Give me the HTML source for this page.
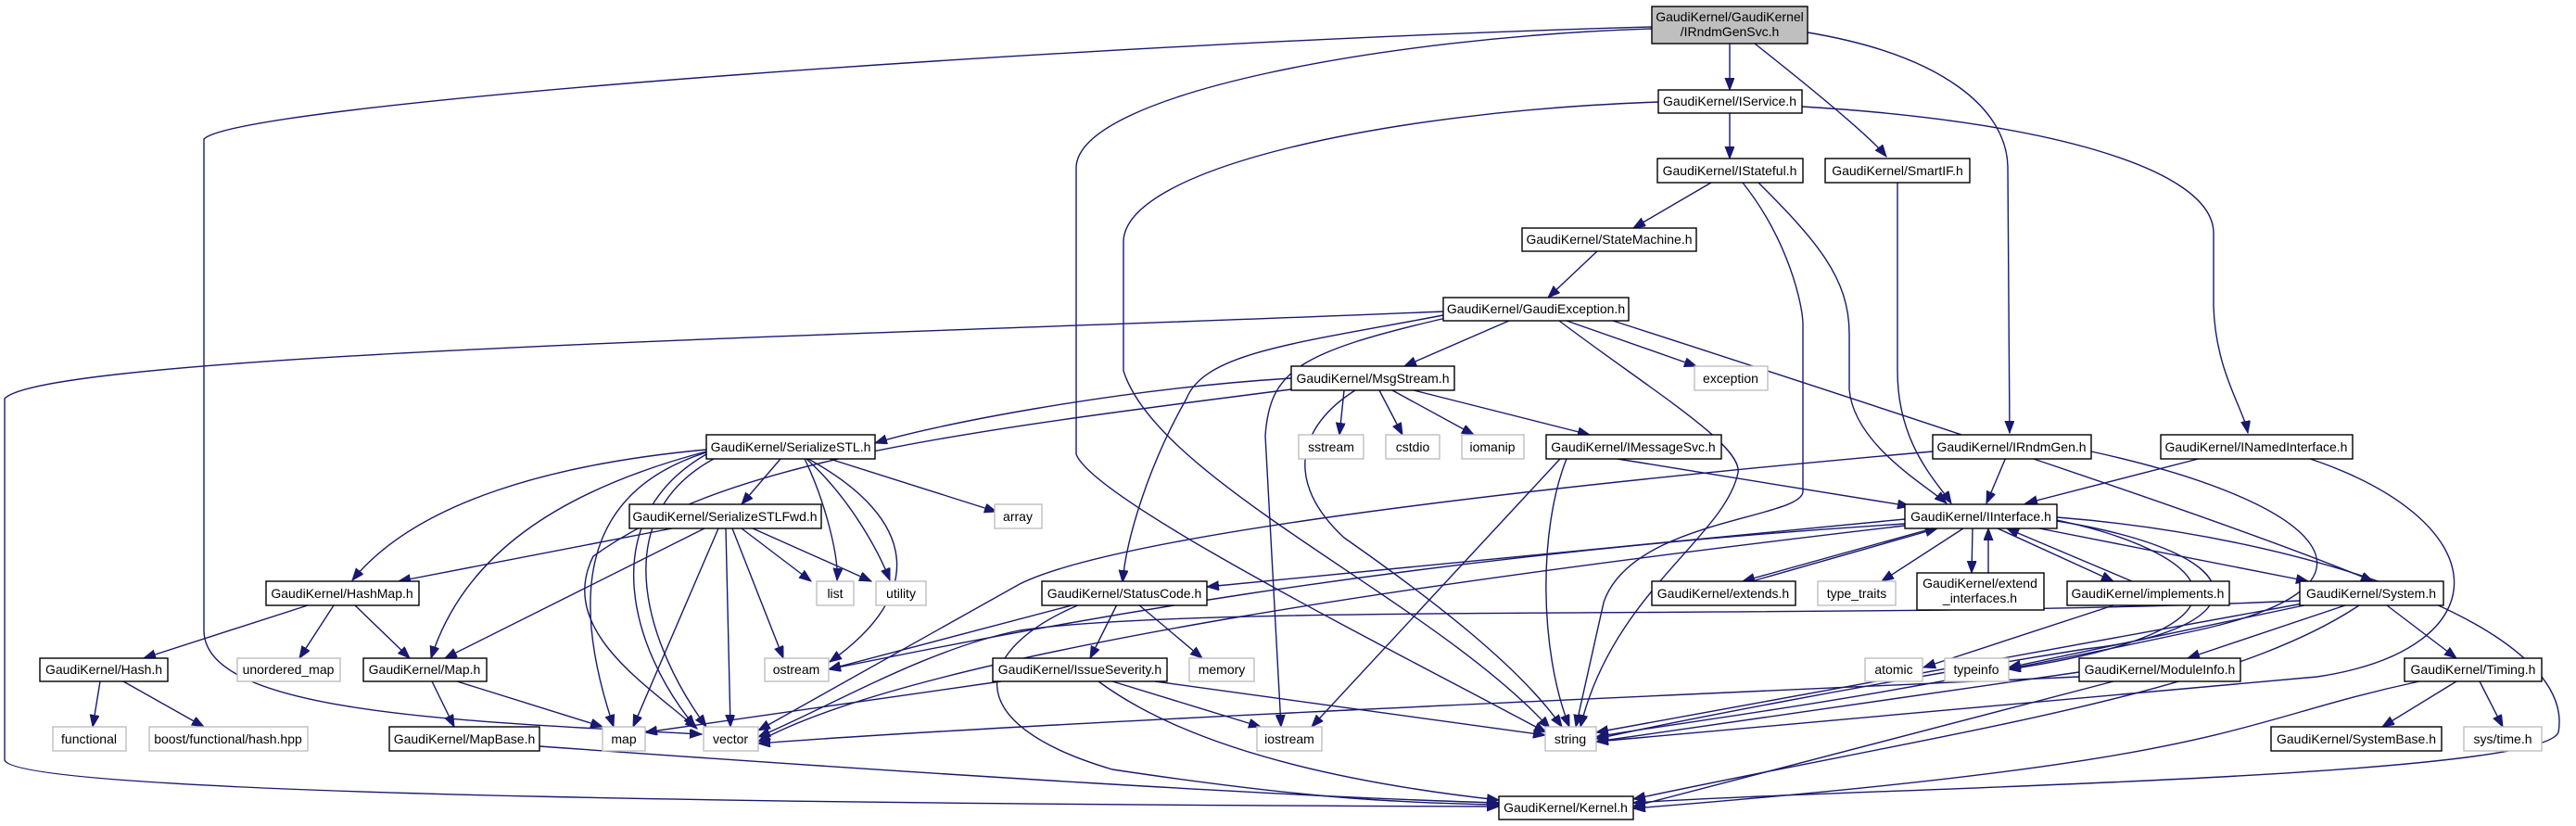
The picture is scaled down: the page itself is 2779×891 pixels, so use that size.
<!DOCTYPE html>
<html><head><meta charset="utf-8"><style>
html,body{margin:0;padding:0;background:#fff;}
svg{display:block;}
text{font-family:"Liberation Sans",Arial,sans-serif;font-size:14px;fill:#000;}
.e{fill:none;stroke:#191970;stroke-width:1.4;marker-end:url(#a);}
.n{fill:#fff;stroke:#000;stroke-width:1.4;}
.g{fill:#fff;stroke:#bfbfbf;stroke-width:1.4;}
</style></head><body>
<svg width="2779" height="891" viewBox="0 0 2779 891" xmlns="http://www.w3.org/2000/svg">
<defs><marker id="a" markerUnits="userSpaceOnUse" markerWidth="14" markerHeight="12" refX="13" refY="5" orient="auto"><path d="M0,0 L13,5 L0,10 z" fill="#191970" stroke="#191970"/></marker></defs>
<g>
<path class="e" d="M1782,29 C1200,45 260,110 220,150 L220,680 C220,770 500,778 757,792"/>
<path class="e" d="M1782,31 C1500,40 1165,100 1161,180 L1161,490 C1180,540 1500,700 1668,790"/>
<path class="e" d="M1789,110 C1500,120 1215,180 1212,260 L1212,400 C1250,520 1550,650 1672,786"/>
<path class="e" d="M1944,115 C2200,130 2385,180 2388,250 L2388,330 C2390,400 2420,440 2425,467"/>
<path class="e" d="M1866,47 L1866,97"/>
<path class="e" d="M1893,47 C1960,100 2020,150 2035,169"/>
<path class="e" d="M1950,35 C2100,60 2165,120 2166,180 L2168,467"/>
<path class="e" d="M1866,122 L1866,171"/>
<path class="e" d="M1846,197 L1762,246"/>
<path class="e" d="M1880,197 C1930,260 1945,330 1945,350 L1945,530 C1945,560 1760,560 1730,650 L1700,784"/>
<path class="e" d="M1897,197 C1960,260 1995,300 1995,360 L1995,420 C2000,480 2080,525 2100,543"/>
<path class="e" d="M2047,197 L2047,400 C2047,480 2090,520 2105,543"/>
<path class="e" d="M1723,271 L1670,321"/>
<path class="e" d="M1628,346 L1515,395"/>
<path class="e" d="M1690,346 L1830,395"/>
<path class="e" d="M1557,336 C1000,360 50,380 5,430 L5,820 C20,860 1000,868 1617,870"/>
<path class="e" d="M1557,340 C1400,370 1300,380 1280,430 C1240,500 1215,580 1211,628"/>
<path class="e" d="M1560,343 C1400,380 1370,400 1365,470 L1382,784"/>
<path class="e" d="M1682,346 C1780,420 1880,480 1875,510 C1860,580 1740,640 1705,784"/>
<path class="e" d="M1740,346 C2000,430 2400,560 2560,627"/>
<path class="e" d="M1450,421 L1445,469"/>
<path class="e" d="M1488,421 L1513,469"/>
<path class="e" d="M1502,421 L1590,469"/>
<path class="e" d="M1525,421 L1715,469"/>
<path class="e" d="M1393,408 C1200,420 1000,460 944,478"/>
<path class="e" d="M1393,420 C1000,470 780,500 640,600 C600,680 700,740 752,786"/>
<path class="e" d="M1462,421 C1400,460 1385,520 1450,580 C1550,650 1640,720 1685,784"/>
<path class="e" d="M842,495 L800,544"/>
<path class="e" d="M762,485 C600,500 450,540 380,626"/>
<path class="e" d="M762,487 C600,530 500,600 465,710"/>
<path class="e" d="M762,488 C660,520 600,600 662,784"/>
<path class="e" d="M762,490 C640,560 680,700 750,784"/>
<path class="e" d="M770,495 C650,560 700,700 762,784"/>
<path class="e" d="M868,495 C890,540 905,600 903,626"/>
<path class="e" d="M870,495 C920,540 950,600 960,626"/>
<path class="e" d="M895,495 L1075,552"/>
<path class="e" d="M872,495 C990,560 1000,640 895,714"/>
<path class="e" d="M725,570 L430,627"/>
<path class="e" d="M760,570 L480,710"/>
<path class="e" d="M775,570 L683,784"/>
<path class="e" d="M783,570 L788,784"/>
<path class="e" d="M800,570 L875,627"/>
<path class="e" d="M812,570 L940,627"/>
<path class="e" d="M790,570 L845,710"/>
<path class="e" d="M332,653 L155,710"/>
<path class="e" d="M360,653 L323,710"/>
<path class="e" d="M383,653 L442,710"/>
<path class="e" d="M108,735 L100,784"/>
<path class="e" d="M133,735 L220,784"/>
<path class="e" d="M466,735 L490,784"/>
<path class="e" d="M493,735 L650,784"/>
<path class="e" d="M582,805 C1000,835 1400,860 1617,866"/>
<path class="e" d="M1745,495 L2060,546"/>
<path class="e" d="M1683,495 L1415,784"/>
<path class="e" d="M1690,495 C1660,570 1660,700 1693,784"/>
<path class="e" d="M2165,491 L2143,543"/>
<path class="e" d="M2085,487 C1600,530 1200,580 1100,630 L818,788"/>
<path class="e" d="M2256,487 C2500,540 2600,630 2370,680 C2000,760 1800,780 1722,795"/>
<path class="e" d="M2387,491 L2185,543"/>
<path class="e" d="M2480,491 C2700,560 2700,700 2500,730 L1722,800"/>
<path class="e" d="M2055,560 L1302,633"/>
<path class="e" d="M2085,570 L1880,627"/>
<path class="e" d="M1890,627 L2090,570"/>
<path class="e" d="M2118,570 L2030,627"/>
<path class="e" d="M2128,570 L2127,618"/>
<path class="e" d="M2145,618 L2145,570"/>
<path class="e" d="M2155,570 L2280,627"/>
<path class="e" d="M2300,627 L2165,570"/>
<path class="e" d="M2200,570 L2490,627"/>
<path class="e" d="M2055,565 C1500,600 1100,680 894,722"/>
<path class="e" d="M2055,567 C1600,620 1000,700 818,800"/>
<path class="e" d="M2219,558 C2500,580 2780,680 2760,790 C2740,840 2000,850 1762,866"/>
<path class="e" d="M2219,561 C2400,600 2450,680 2167,722"/>
<path class="e" d="M2219,562 C2450,600 2430,680 2250,700 C2000,740 1800,780 1722,797"/>
<path class="e" d="M2280,653 L2075,720"/>
<path class="e" d="M1160,652 L894,722"/>
<path class="e" d="M1205,652 L1176,710"/>
<path class="e" d="M1228,652 L1297,710"/>
<path class="e" d="M1165,652 C1050,700 1030,780 1200,830 C1400,860 1500,866 1617,868"/>
<path class="e" d="M1080,735 L696,790"/>
<path class="e" d="M1200,735 L1360,784"/>
<path class="e" d="M1246,735 L1667,793"/>
<path class="e" d="M1185,735 C1300,820 1500,850 1617,863"/>
<path class="e" d="M2490,650 L1722,790"/>
<path class="e" d="M2500,650 L2167,720"/>
<path class="e" d="M2530,653 L2360,710"/>
<path class="e" d="M2575,653 L2650,710"/>
<path class="e" d="M2545,653 C2400,750 2100,790 1762,862"/>
<path class="e" d="M2481,648 C2000,670 1300,650 1100,680 C1000,700 900,760 818,795"/>
<path class="e" d="M2243,725 L1722,800"/>
<path class="e" d="M2243,730 C1800,750 1100,780 818,802"/>
<path class="e" d="M2280,735 L1762,870"/>
<path class="e" d="M2650,735 L2570,784"/>
<path class="e" d="M2675,735 L2700,784"/>
<path class="e" d="M2610,735 C2400,780 2420,820 1762,872"/>
</g>
<g>
<rect x="1782" y="7" width="168" height="40" fill="#bfbfbf" stroke="#000" stroke-width="1.4"/>
<text x="1866" y="23" text-anchor="middle">GaudiKernel/GaudiKernel</text>
<text x="1866" y="39" text-anchor="middle">/IRndmGenSvc.h</text>

<rect class="n" x="1789" y="97" width="155" height="25"/><text x="1866" y="114" text-anchor="middle">GaudiKernel/IService.h</text>
<rect class="n" x="1788" y="171" width="157" height="26"/><text x="1866" y="189" text-anchor="middle">GaudiKernel/IStateful.h</text>
<rect class="n" x="1969" y="171" width="156" height="26"/><text x="2047" y="189" text-anchor="middle">GaudiKernel/SmartIF.h</text>
<rect class="n" x="1642" y="246" width="188" height="25"/><text x="1736" y="263" text-anchor="middle">GaudiKernel/StateMachine.h</text>
<rect class="n" x="1557" y="321" width="200" height="25"/><text x="1657" y="338" text-anchor="middle">GaudiKernel/GaudiException.h</text>
<rect class="n" x="1393" y="395" width="176" height="26"/><text x="1481" y="413" text-anchor="middle">GaudiKernel/MsgStream.h</text>
<rect class="g" x="1828" y="395" width="79" height="26"/><text x="1867" y="413" text-anchor="middle">exception</text>

<rect class="n" x="762" y="469" width="182" height="26"/><text x="853" y="487" text-anchor="middle">GaudiKernel/SerializeSTL.h</text>
<rect class="g" x="1401" y="469" width="70" height="26"/><text x="1436" y="487" text-anchor="middle">sstream</text>
<rect class="g" x="1495" y="469" width="58" height="26"/><text x="1524" y="487" text-anchor="middle">cstdio</text>
<rect class="g" x="1577" y="469" width="67" height="26"/><text x="1610" y="487" text-anchor="middle">iomanip</text>
<rect class="n" x="1668" y="469" width="189" height="26"/><text x="1762" y="487" text-anchor="middle">GaudiKernel/IMessageSvc.h</text>
<rect class="n" x="2085" y="469" width="171" height="26"/><text x="2170" y="487" text-anchor="middle">GaudiKernel/IRndmGen.h</text>
<rect class="n" x="2331" y="469" width="207" height="26"/><text x="2434" y="487" text-anchor="middle">GaudiKernel/INamedInterface.h</text>

<rect class="n" x="679" y="544" width="207" height="26"/><text x="782" y="562" text-anchor="middle">GaudiKernel/SerializeSTLFwd.h</text>
<rect class="g" x="1073" y="544" width="51" height="26"/><text x="1098" y="562" text-anchor="middle">array</text>
<rect class="n" x="2055" y="544" width="164" height="26"/><text x="2137" y="562" text-anchor="middle">GaudiKernel/IInterface.h</text>

<rect class="n" x="287" y="627" width="165" height="26"/><text x="369" y="645" text-anchor="middle">GaudiKernel/HashMap.h</text>
<rect class="g" x="881" y="627" width="40" height="26"/><text x="901" y="645" text-anchor="middle">list</text>
<rect class="g" x="945" y="627" width="54" height="26"/><text x="972" y="645" text-anchor="middle">utility</text>
<rect class="n" x="1124" y="627" width="178" height="26"/><text x="1213" y="645" text-anchor="middle">GaudiKernel/StatusCode.h</text>
<rect class="n" x="1782" y="627" width="155" height="26"/><text x="1859" y="645" text-anchor="middle">GaudiKernel/extends.h</text>
<rect class="g" x="1961" y="627" width="84" height="26"/><text x="2003" y="645" text-anchor="middle">type_traits</text>
<rect class="n" x="2068" y="618" width="137" height="40"/>
<text x="2136" y="634" text-anchor="middle">GaudiKernel/extend</text>
<text x="2136" y="650" text-anchor="middle">_interfaces.h</text>
<rect class="n" x="2230" y="627" width="175" height="26"/><text x="2317" y="645" text-anchor="middle">GaudiKernel/implements.h</text>
<rect class="n" x="2481" y="627" width="155" height="26"/><text x="2558" y="645" text-anchor="middle">GaudiKernel/System.h</text>

<rect class="n" x="43" y="710" width="138" height="25"/><text x="112" y="727" text-anchor="middle">GaudiKernel/Hash.h</text>
<rect class="g" x="256" y="710" width="111" height="25"/><text x="311" y="727" text-anchor="middle">unordered_map</text>
<rect class="n" x="392" y="710" width="133" height="25"/><text x="458" y="727" text-anchor="middle">GaudiKernel/Map.h</text>
<rect class="g" x="825" y="710" width="69" height="25"/><text x="859" y="727" text-anchor="middle">ostream</text>
<rect class="n" x="1071" y="710" width="188" height="25"/><text x="1165" y="727" text-anchor="middle">GaudiKernel/IssueSeverity.h</text>
<rect class="g" x="1283" y="710" width="70" height="25"/><text x="1318" y="727" text-anchor="middle">memory</text>
<rect class="g" x="2012" y="710" width="62" height="25"/><text x="2043" y="727" text-anchor="middle">atomic</text>
<rect class="g" x="2098" y="710" width="69" height="25"/><text x="2132" y="727" text-anchor="middle">typeinfo</text>
<rect class="n" x="2243" y="710" width="174" height="25"/><text x="2330" y="727" text-anchor="middle">GaudiKernel/ModuleInfo.h</text>
<rect class="n" x="2594" y="710" width="148" height="25"/><text x="2668" y="727" text-anchor="middle">GaudiKernel/Timing.h</text>

<rect class="g" x="57" y="784" width="79" height="26"/><text x="96" y="802" text-anchor="middle">functional</text>
<rect class="g" x="161" y="784" width="171" height="26"/><text x="246" y="802" text-anchor="middle">boost/functional/hash.hpp</text>
<rect class="n" x="420" y="784" width="162" height="26"/><text x="501" y="802" text-anchor="middle">GaudiKernel/MapBase.h</text>
<rect class="g" x="650" y="784" width="46" height="26"/><text x="673" y="802" text-anchor="middle">map</text>
<rect class="g" x="759" y="784" width="59" height="26"/><text x="788" y="802" text-anchor="middle">vector</text>
<rect class="g" x="1356" y="784" width="70" height="26"/><text x="1391" y="802" text-anchor="middle">iostream</text>
<rect class="g" x="1667" y="784" width="55" height="26"/><text x="1694" y="802" text-anchor="middle">string</text>
<rect class="n" x="2450" y="784" width="184" height="26"/><text x="2542" y="802" text-anchor="middle">GaudiKernel/SystemBase.h</text>
<rect class="g" x="2658" y="784" width="84" height="26"/><text x="2700" y="802" text-anchor="middle">sys/time.h</text>

<rect class="n" x="1617" y="859" width="145" height="25"/><text x="1689" y="876" text-anchor="middle">GaudiKernel/Kernel.h</text>
</g>
</svg>
</body></html>
